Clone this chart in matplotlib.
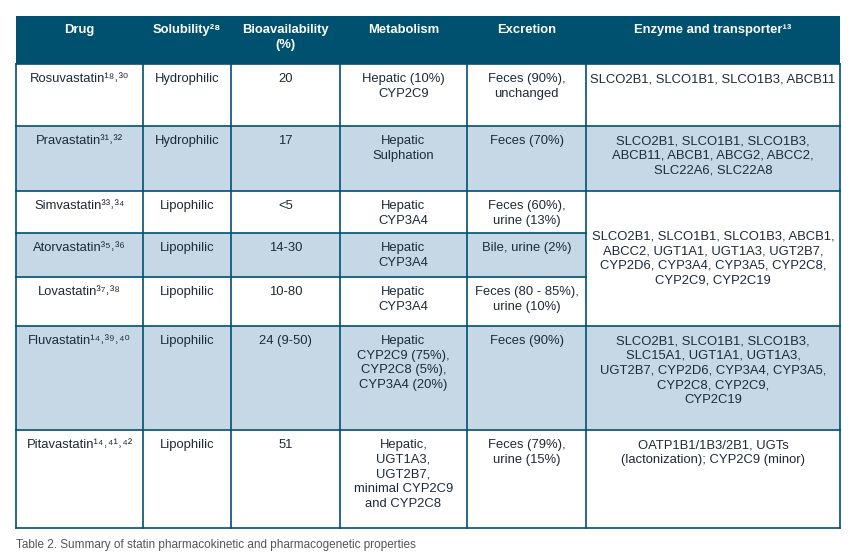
import matplotlib
matplotlib.use("Agg")
import matplotlib.pyplot as plt
from matplotlib.patches import Rectangle

headers = ["Drug", "Solubility²⁸", "Bioavailability\n(%)", "Metabolism", "Excretion", "Enzyme and transporter¹³"]
drugs = ["Rosuvastatin¹⁸˒³⁰", "Pravastatin³¹˒³²", "Simvastatin³³˒³⁴", "Atorvastatin³⁵˒³⁶",
         "Lovastatin³⁷˒³⁸", "Fluvastatin¹⁴˒³⁹˒⁴⁰", "Pitavastatin¹⁴˒⁴¹˒⁴²"]
solubility = ["Hydrophilic", "Hydrophilic", "Lipophilic", "Lipophilic", "Lipophilic", "Lipophilic", "Lipophilic"]
bioavail = ["20", "17", "<5", "14-30", "10-80", "24 (9-50)", "51"]
metabolism = ["Hepatic (10%)\nCYP2C9", "Hepatic\nSulphation", "Hepatic\nCYP3A4", "Hepatic\nCYP3A4", "Hepatic\nCYP3A4",
              "Hepatic\nCYP2C9 (75%),\nCYP2C8 (5%),\nCYP3A4 (20%)",
              "Hepatic,\nUGT1A3,\nUGT2B7,\nminimal CYP2C9\nand CYP2C8"]
excretion = ["Feces (90%),\nunchanged", "Feces (70%)", "Feces (60%),\nurine (13%)", "Bile, urine (2%)",
             "Feces (80 - 85%),\nurine (10%)", "Feces (90%)", "Feces (79%),\nurine (15%)"]
enzymes = ["SLCO2B1, SLCO1B1, SLCO1B3, ABCB11",
           "SLCO2B1, SLCO1B1, SLCO1B3,\nABCB11, ABCB1, ABCG2, ABCC2,\nSLC22A6, SLC22A8",
           "SLCO2B1, SLCO1B1, SLCO1B3, ABCB1,\nABCC2, UGT1A1, UGT1A3, UGT2B7,\nCYP2D6, CYP3A4, CYP3A5, CYP2C8,\nCYP2C9, CYP2C19",
           None, None,
           "SLCO2B1, SLCO1B1, SLCO1B3,\nSLC15A1, UGT1A1, UGT1A3,\nUGT2B7, CYP2D6, CYP3A4, CYP3A5,\nCYP2C8, CYP2C9,\nCYP2C19",
           "OATP1B1/1B3/2B1, UGTs\n(lactonization); CYP2C9 (minor)"]
caption = "Table 2. Summary of statin pharmacokinetic and pharmacogenetic properties"

colx = [16, 143, 231, 340, 467, 586, 840]
rowy = [16, 64, 126, 191, 233, 277, 326, 430, 528]
HEAD = "#00506f"
LIGHT = "#c6d8e6"
TXT = "#1e2a38"
FAM = ["Liberation Sans", "DejaVu Sans"]
FS = 9.4
LS = 1.3

fig = plt.figure(figsize=(8.58, 5.56), dpi=100)
ax = fig.add_axes([0, 0, 1, 1])
ax.set_xlim(0, 858); ax.set_ylim(556, 0); ax.axis("off")

ax.add_patch(Rectangle((colx[0], rowy[0]), colx[-1]-colx[0], rowy[1]-rowy[0], color=HEAD, lw=0))
for j, h in enumerate(headers):
    ax.text((colx[j]+colx[j+1])/2, rowy[0]+8, h, ha="center", va="top", color="white",
            fontsize=FS, fontweight="bold", family=FAM, linespacing=LS)

for i in range(len(drugs)):
    y0, y1 = rowy[i+1], rowy[i+2]
    if i % 2 == 1:
        ax.add_patch(Rectangle((colx[0], y0), colx[-1]-colx[0], y1-y0, color=LIGHT, lw=0))
    vals = [drugs[i], solubility[i], bioavail[i], metabolism[i], excretion[i]]
    for j, v in enumerate(vals):
        ax.text((colx[j]+colx[j+1])/2, y0+9, v, ha="center", va="top", color=TXT,
                fontsize=FS, family=FAM, linespacing=LS, zorder=3)
ax.add_patch(Rectangle((colx[5], rowy[3]), colx[6]-colx[5], rowy[6]-rowy[3], color="white", lw=0, zorder=1))
for i, e in enumerate(enzymes):
    if e is None:
        continue
    y0 = rowy[i+1]
    y1 = rowy[i+2] if i != 2 else rowy[6]
    if i == 2:
        ax.text((colx[5]+colx[6])/2, (y0+y1)/2, e, ha="center", va="center", color=TXT,
                fontsize=FS, family=FAM, linespacing=LS, zorder=3)
    else:
        ax.text((colx[5]+colx[6])/2, y0+9, e, ha="center", va="top", color=TXT,
                fontsize=FS, family=FAM, linespacing=LS, zorder=3)

lc = HEAD
for x in colx:
    ax.plot([x, x], [rowy[1], rowy[-1]], color=lc, lw=1.2, zorder=4)
for k, y in enumerate(rowy[1:]):
    if k in (3, 4):
        ax.plot([colx[0], colx[5]], [y, y], color=lc, lw=1.2, zorder=4)
    else:
        ax.plot([colx[0], colx[-1]], [y, y], color=lc, lw=1.2, zorder=4)

ax.text(16, 545, caption, ha="left", va="center", color="#555555", fontsize=8.5, family=FAM)
fig.savefig("out.png", dpi=100)
